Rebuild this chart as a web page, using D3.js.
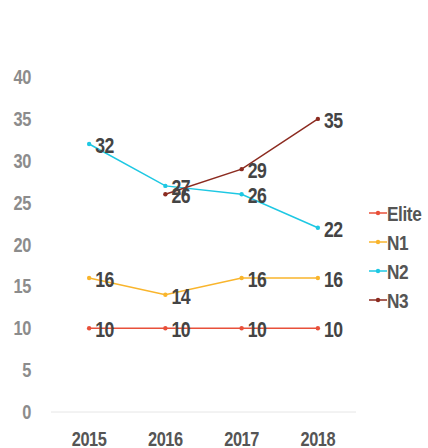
<!DOCTYPE html>
<html>
<head>
<meta charset="utf-8">
<script src="https://cdn.jsdelivr.net/npm/d3@7"></script>
<style>
  body { margin: 0; background: #fff; }
  text { font-family: "Liberation Sans", Arial, sans-serif; font-weight: bold; }
</style>
</head>
<body>
<div id="chart"></div>
<script>
// data
var years = ["2015", "2016", "2017", "2018"];
var seriesNames = ["Elite", "N1", "N2", "N3"];
var elite = [10, 10, 10, 10];
var n1 = [16, 14, 16, 16];
var n2 = [32, 27, 26, 22];
var n3 = [null, 26, 29, 35];
var yTicks = [0, 5, 10, 15, 20, 25, 30, 35, 40];
var colors = ["#e8503a", "#f9b52c", "#1ec8e3", "#8c2b20"];

var width = 428, height = 448;
var squeeze = 0.82; // the original font is a condensed one
var svg = d3.select("#chart").append("svg")
    .attr("width", width).attr("height", height);

var x = d3.scalePoint().domain(years).range([51, 356]).padding(0.5);
var y = d3.scaleLinear().domain([0, 40]).range([412, 77]);

function place(px, py) {
    return "translate(" + px + "," + py + ") scale(" + squeeze + ",1)";
}

// baseline
svg.append("line")
    .attr("x1", 51).attr("x2", 356)
    .attr("y1", y(0)).attr("y2", y(0))
    .attr("stroke", "#e6e6e6").attr("stroke-width", 1);

// y labels
svg.selectAll(".ylab").data(yTicks).enter().append("text")
    .attr("class", "ylab")
    .attr("transform", function (d) { return place(31, y(d) + 7); })
    .attr("text-anchor", "end")
    .attr("fill", "#8c8c8c")
    .attr("font-size", 20)
    .attr("letter-spacing", -0.5)
    .text(function (d) { return d; });

// x labels
svg.selectAll(".xlab").data(years).enter().append("text")
    .attr("class", "xlab")
    .attr("transform", function (d) { return place(x(d), 446); })
    .attr("text-anchor", "middle")
    .attr("fill", "#555")
    .attr("font-size", 20)
    .attr("letter-spacing", -0.5)
    .text(function (d) { return d; });

var allSeries = [elite, n1, n2, n3].map(function (vals, i) {
    return {
        name: seriesNames[i],
        color: colors[i],
        points: vals.map(function (v, j) { return { year: years[j], value: v }; })
            .filter(function (p) { return p.value != null; })
    };
});

var line = d3.line()
    .x(function (d) { return x(d.year); })
    .y(function (d) { return y(d.value); });

var g = svg.selectAll(".series").data(allSeries).enter().append("g").attr("class", "series");

g.append("path")
    .attr("d", function (d) { return line(d.points); })
    .attr("fill", "none")
    .attr("stroke", function (d) { return d.color; })
    .attr("stroke-width", 1.5);

g.each(function (s) {
    var sel = d3.select(this);
    sel.selectAll("circle").data(s.points).enter().append("circle")
        .attr("cx", function (d) { return x(d.year); })
        .attr("cy", function (d) { return y(d.value); })
        .attr("r", 2.2)
        .attr("fill", s.color);
    sel.selectAll(".vlab").data(s.points).enter().append("text")
        .attr("class", "vlab")
        .attr("transform", function (d) { return place(x(d.year) + 6, y(d.value) + 9); })
        .attr("fill", "#444")
        .attr("font-size", 21.5)
        .attr("letter-spacing", -0.5)
        .text(function (d) { return d.value; });
});

// legend
var leg = svg.selectAll(".leg").data(allSeries).enter().append("g")
    .attr("class", "leg")
    .attr("transform", function (d, i) { return "translate(369," + (213 + i * 29) + ")"; });
leg.append("line")
    .attr("x1", 0).attr("x2", 18).attr("y1", 0).attr("y2", 0)
    .attr("stroke", function (d) { return d.color; }).attr("stroke-width", 1.5);
leg.append("circle")
    .attr("cx", 9).attr("cy", 0).attr("r", 2.2)
    .attr("fill", function (d) { return d.color; });
leg.append("text")
    .attr("transform", place(18, 7.5))
    .attr("fill", "#555")
    .attr("font-size", 21)
    .attr("letter-spacing", -0.5)
    .text(function (d) { return d.name; });
</script>
</body>
</html>
